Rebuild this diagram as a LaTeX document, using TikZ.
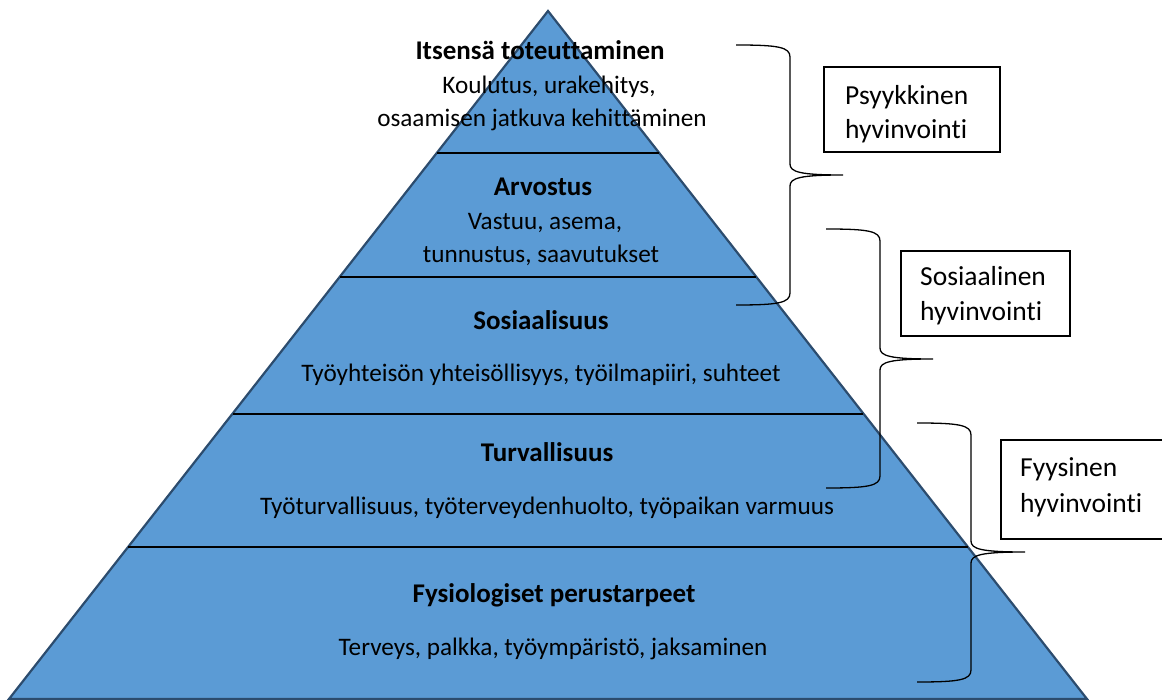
\documentclass[tikz,border=0pt]{standalone}
\usepackage{fontspec}
\setmainfont{Carlito}[Ligatures=NoCommon]
\definecolor{pyrfill}{HTML}{5B9BD5}
\definecolor{pyredge}{HTML}{2C4C6E}
\tikzset{
  pyramidshape/.style={fill=pyrfill, draw=pyredge, line width=2.2pt, line join=miter},
  divline/.style={draw=black, line width=1.2pt},
  title/.style={font=\fontsize{27}{33}\selectfont\bfseries, inner sep=0pt, anchor=base},
  desc/.style={font=\fontsize{25.2}{33}\selectfont, inner sep=0pt, anchor=base},
  boxtxt/.style={font=\fontsize{27.5}{34}\selectfont, inner sep=0pt, anchor=base west},
  labelbox/.style={draw=black, line width=1.2pt, inner sep=0pt},
  bracepath/.style={draw=black, line width=1.3pt}
}
\begin{document}
\begin{tikzpicture}[x=1pt,y=-1pt]
\useasboundingbox (0,0) rectangle (1162,700);
% pyramid
\coordinate (apex) at (548,11);
\coordinate (bl) at (9,699);
\coordinate (br) at (1087,699);
\path[pyramidshape] (apex) -- (br) -- (bl) -- cycle;
% division lines
\coordinate (l1a) at (437,153); \coordinate (l1b) at (659,153);
\coordinate (l2a) at (340,277); \coordinate (l2b) at (756,277);
\coordinate (l3a) at (233,414); \coordinate (l3b) at (863,414);
\coordinate (l4a) at (128,547); \coordinate (l4b) at (968,547);
\draw[divline] (l1a) -- (l1b);
\draw[divline] (l2a) -- (l2b);
\draw[divline] (l3a) -- (l3b);
\draw[divline] (l4a) -- (l4b);
% texts
\node[title] (t1) at (540,60) {Itsensä toteuttaminen};
\node[desc] (d1a) at (549,94) {Koulutus, urakehitys,};
\node[desc] (d1b) at (542,127) {osaamisen jatkuva kehittäminen};
\node[title] (t2) at (543,196) {Arvostus};
\node[desc] (d2a) at (545,230) {Vastuu, asema,};
\node[desc] (d2b) at (541,263) {tunnustus, saavutukset};
\node[title] (t3) at (541,330) {Sosiaalisuus};
\node[desc] (d3) at (541,382) {Työyhteisön yhteisöllisyys, työilmapiiri, suhteet};
\node[title] (t4) at (547,461) {Turvallisuus};
\node[desc] (d4) at (547,514) {Työturvallisuus, työterveydenhuolto, työpaikan varmuus};
\node[title] (t5) at (554,602) {Fysiologiset perustarpeet};
\node[desc] (d5) at (553,655) {Terveys, palkka, työympäristö, jaksaminen};
% label boxes
\node[labelbox, minimum width=176pt, minimum height=85pt] (psy) at (912,109.5) {};
\node[boxtxt] (psy1) at (845,105) {Psyykkinen};
\node[boxtxt] (psy2) at (845,139) {hyvinvointi};
\node[labelbox, minimum width=169pt, minimum height=85pt] (sos) at (985.5,293.5) {};
\node[boxtxt] (sos1) at (920,286) {Sosiaalinen};
\node[boxtxt] (sos2) at (920,321) {hyvinvointi};
\node[labelbox, minimum width=166pt, minimum height=99pt] (fyy) at (1084,489.5) {};
\node[boxtxt] (fyy1) at (1020,476) {Fyysinen};
\node[boxtxt] (fyy2) at (1020,512) {hyvinvointi};
% braces
\coordinate (b1top) at (736,45); \coordinate (b1tip) at (843,175); \coordinate (b1bot) at (736,305);
\draw[bracepath] (b1top) .. controls (778,45) and (790,47) .. (790,57) -- (790,164)
  .. controls (790,172) and (800,175) .. (b1tip)
  (b1tip) .. controls (800,175) and (790,178) .. (790,186) -- (790,293)
  .. controls (790,303) and (778,305) .. (b1bot);
\coordinate (b2top) at (826,229); \coordinate (b2tip) at (933,359); \coordinate (b2bot) at (826,488);
\draw[bracepath] (b2top) .. controls (868,229) and (880,231) .. (880,241) -- (880,348)
  .. controls (880,356) and (890,359) .. (b2tip)
  (b2tip) .. controls (890,359) and (880,362) .. (880,370) -- (880,476)
  .. controls (880,486) and (868,488) .. (b2bot);
\coordinate (b3top) at (917,423); \coordinate (b3tip) at (1025,552); \coordinate (b3bot) at (917,682);
\draw[bracepath] (b3top) .. controls (959,423) and (971,425) .. (971,435) -- (971,541)
  .. controls (971,549) and (981,552) .. (b3tip)
  (b3tip) .. controls (981,552) and (971,555) .. (971,563) -- (971,670)
  .. controls (971,680) and (959,682) .. (b3bot);
\end{tikzpicture}
\end{document}
